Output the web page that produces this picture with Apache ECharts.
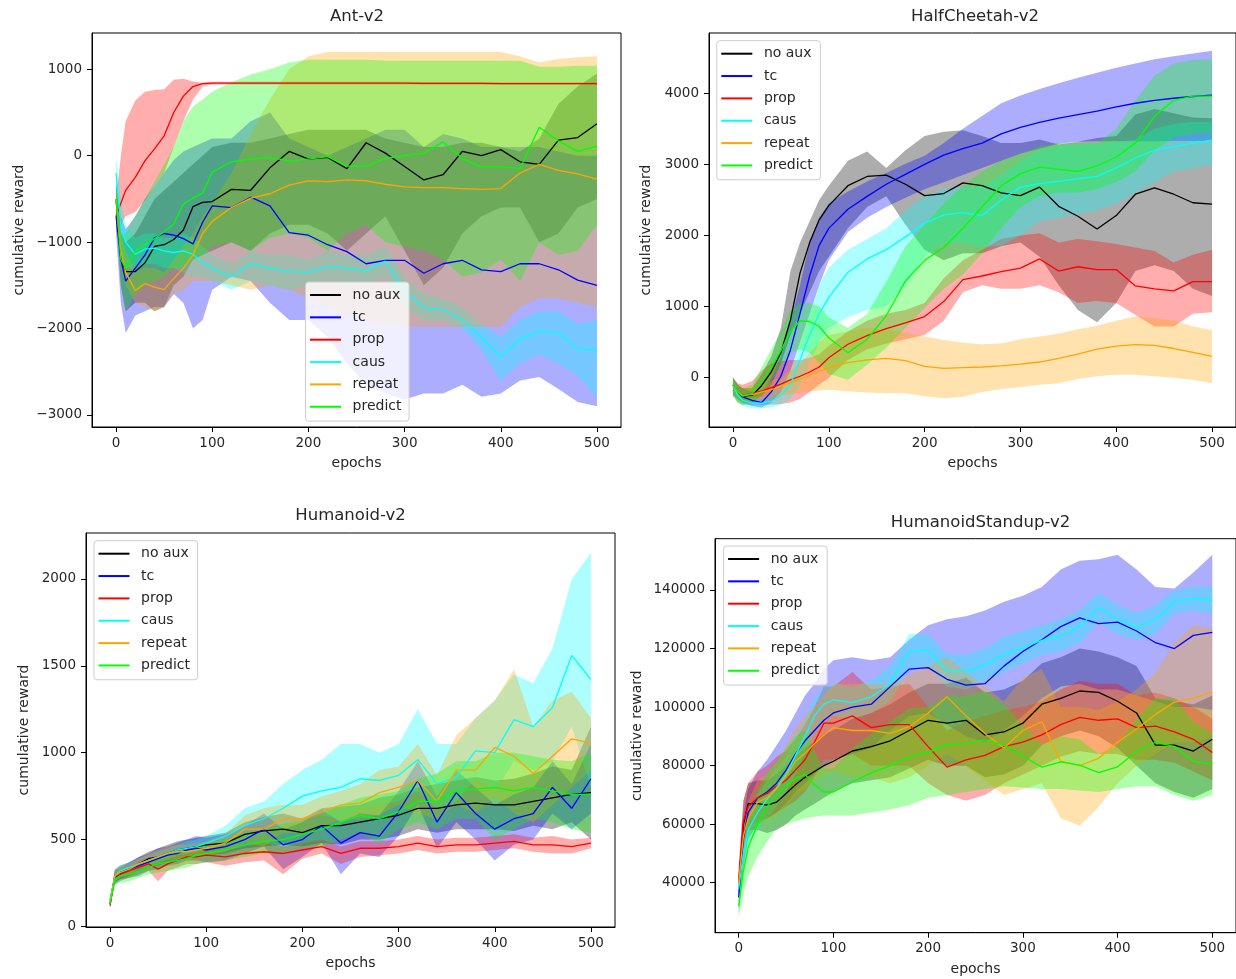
<!DOCTYPE html>
<html>
<head>
<meta charset="utf-8">
<script src="https://cdn.jsdelivr.net/npm/echarts@6/dist/echarts.min.js"></script>
<style>
html,body{margin:0;padding:0;background:#fff;}
#chart{width:1236px;height:979px;}
</style>
</head>
<body>
<div id="chart"></div>
<script>
// ---------- shared ----------
const X = [0,5,10,20,30,40,50,60,70,80,90,100,120,140,160,180,200,220,240,260,280,300,320,340,360,380,400,420,440,460,480,500];
const NAMES = ['no aux','tc','prop','caus','repeat','predict'];
const COLORS = ['#000000','#0000ff','#ff0000','#00ffff','#ffa500','#00ff00'];
const X_TICKS = [0,100,200,300,400,500];

// ---------- Ant-v2 ----------
const ant_noaux_mean = [-500,-1200,-1340,-1340,-1240,-1050,-1030,-970,-860,-590,-540,-530,-390,-400,-140,50,-40,-20,-150,150,30,-125,-280,-220,50,0,70,-70,-100,180,210,370];
const ant_noaux_lo = [-700,-1500,-1800,-1700,-1700,-1800,-1750,-1500,-1400,-1200,-1150,-1100,-1000,-1100,-900,-800,-800,-900,-1100,-900,-700,-1100,-1500,-1300,-900,-700,-600,-600,-1000,-900,-600,-500];
const ant_noaux_hi = [-300,-900,-1000,-900,-700,-500,-400,-300,-200,-100,0,100,150,150,200,250,300,300,300,300,200,150,100,100,150,150,100,50,200,600,800,950];
const ant_tc_mean = [-700,-1200,-1450,-1300,-1150,-950,-900,-920,-960,-1020,-770,-580,-600,-480,-580,-890,-920,-1030,-1110,-1250,-1210,-1210,-1360,-1250,-1210,-1320,-1340,-1250,-1250,-1320,-1440,-1500];
const ant_tc_lo = [-900,-1700,-2050,-1850,-1800,-1750,-1750,-1600,-1700,-2000,-1900,-1550,-1400,-1450,-1700,-1900,-1900,-2100,-2400,-2650,-2750,-2820,-2750,-2750,-2650,-2790,-2750,-2600,-2560,-2700,-2850,-2900];
const ant_tc_hi = [-300,-700,-850,-700,-500,-350,-200,-50,50,100,150,200,200,400,500,200,100,0,100,200,300,300,100,250,200,100,100,100,100,50,0,0];
const ant_prop_mean = [-700,-550,-400,-250,-60,80,230,500,690,800,835,840,840,840,840,840,840,840,840,840,840,840,838,838,838,838,835,835,835,835,835,835];
const ant_prop_lo = [-900,-800,-700,-650,-520,-350,-200,100,400,650,800,825,825,825,825,825,825,825,825,825,825,825,822,822,822,822,820,820,820,820,820,820];
const ant_prop_hi = [-500,0,400,640,740,760,770,880,890,860,845,855,855,855,855,855,855,855,855,855,855,855,853,853,853,853,850,850,850,850,850,850];
const ant_caus_mean = [-200,-800,-1000,-1140,-1080,-1070,-1100,-1120,-1100,-1140,-1240,-1300,-1400,-1250,-1300,-1340,-1350,-1280,-1300,-1330,-1220,-1560,-1760,-1780,-1900,-2100,-2330,-2120,-2030,-2050,-2230,-2260];
const ant_caus_lo = [-500,-1100,-1300,-1300,-1250,-1250,-1300,-1300,-1350,-1400,-1400,-1450,-1550,-1450,-1500,-1550,-1500,-1450,-1500,-1500,-1400,-1750,-1900,-1900,-2000,-2250,-2600,-2400,-2300,-2400,-2550,-2800];
const ant_caus_hi = [0,-500,-800,-950,-900,-900,-950,-950,-900,-950,-1050,-1150,-1250,-1100,-1150,-1150,-1200,-1100,-1150,-1150,-1050,-1400,-1600,-1650,-1750,-1950,-2100,-1900,-1800,-1800,-1950,-1900];
const ant_repeat_mean = [-500,-1100,-1350,-1560,-1480,-1520,-1550,-1420,-1300,-1150,-900,-760,-600,-490,-440,-340,-290,-300,-280,-290,-330,-360,-370,-370,-380,-390,-380,-200,-100,-170,-210,-270];
const ant_repeat_lo = [-700,-1300,-1500,-1700,-1750,-1800,-1750,-1600,-1550,-1450,-1450,-1450,-1500,-1550,-1500,-1550,-1650,-1750,-1850,-1900,-1950,-1980,-1980,-1980,-1980,-1980,-1980,-1750,-1650,-1650,-1700,-1750];
const ant_repeat_hi = [-300,-900,-1100,-1350,-1300,-1300,-1350,-1200,-1050,-900,-700,-550,-200,250,650,1000,1150,1200,1200,1200,1200,1200,1200,1200,1200,1200,1200,1150,1080,1120,1140,1150];
const ant_predict_mean = [-500,-1200,-1300,-1100,-1030,-960,-880,-790,-560,-490,-430,-190,-70,-40,-20,-60,-40,-10,-120,-120,-30,0,30,160,-30,-130,-130,-150,330,170,50,110];
const ant_predict_lo = [-700,-1500,-1800,-1600,-1500,-1450,-1400,-1300,-1300,-1200,-1150,-1050,-1000,-1100,-950,-900,-950,-1100,-900,-800,-1000,-1050,-1100,-1200,-1400,-1350,-1200,-1450,-1000,-1150,-1100,-800];
const ant_predict_hi = [-300,-900,-900,-700,-500,-300,-100,100,400,570,650,740,850,940,1000,1080,1110,1110,1110,1110,1100,1100,1100,1100,1100,1100,1100,1100,1030,1030,1040,1040];
const ant_yticks = [-3000,-2000,-1000,0,1000];

// ---------- HalfCheetah-v2 ----------
const hc_noaux_mean = [-100,-200,-260,-250,-110,80,350,810,1470,1900,2220,2420,2700,2830,2850,2720,2560,2590,2740,2700,2600,2560,2680,2410,2270,2090,2280,2580,2670,2580,2460,2440];
const hc_noaux_lo = [-250,-300,-350,-350,-250,-100,200,600,900,1200,1500,1700,2100,2400,2550,2150,1800,1650,1750,1750,1850,1900,1700,1300,950,780,1050,1500,1580,1500,1250,1150];
const hc_noaux_hi = [0,-100,-150,-150,50,300,700,1500,1900,2200,2500,2700,3050,3180,2950,3200,3400,3460,3480,3400,3300,3300,3350,3280,3320,3370,3400,3700,3780,3720,3660,3650];
const hc_tc_mean = [-100,-200,-270,-320,-350,-200,20,390,900,1430,1860,2100,2370,2550,2720,2860,3000,3130,3220,3300,3430,3520,3590,3650,3700,3750,3810,3860,3900,3930,3955,3975];
const hc_tc_lo = [-200,-300,-350,-400,-420,-350,-200,100,500,900,1300,1650,2050,2250,2400,2530,2650,2750,2850,2950,3050,3150,3220,3290,3320,3325,3325,3325,3325,3330,3330,3330];
const hc_tc_hi = [0,-100,-150,-200,-200,0,300,800,1300,1900,2250,2450,2620,2760,2880,3010,3120,3300,3500,3680,3860,3970,4060,4140,4220,4290,4360,4420,4480,4520,4560,4600];
const hc_prop_mean = [-100,-200,-250,-220,-190,-140,-90,-30,20,80,150,280,470,590,690,770,860,1070,1380,1430,1490,1540,1670,1500,1560,1520,1520,1290,1250,1220,1350,1350];
const hc_prop_lo = [-250,-350,-380,-380,-380,-380,-370,-350,-300,-200,-100,0,250,400,480,540,600,800,1200,1300,1250,1250,1300,1200,1050,1080,1050,880,720,720,900,920];
const hc_prop_hi = [0,-80,-100,-50,100,200,230,250,250,280,330,450,650,800,900,950,1050,1400,1650,1800,1950,2000,2030,1900,1950,1920,1880,1830,1780,1620,1730,1800];
const hc_caus_mean = [-100,-250,-320,-360,-360,-330,-250,-100,250,600,900,1130,1480,1670,1800,1980,2170,2290,2320,2280,2500,2680,2730,2760,2800,2830,2950,3090,3200,3250,3300,3340];
const hc_caus_lo = [-250,-350,-400,-430,-430,-420,-380,-300,-100,200,500,700,850,950,1000,1300,1700,1900,1900,1850,1850,2000,2200,2250,2300,2350,2450,2600,2750,2900,2950,3000];
const hc_caus_hi = [0,-150,-250,-280,-280,-200,-50,100,500,900,1300,1550,1800,1950,2100,2350,2550,2650,2680,2700,2850,3050,3200,3250,3280,3300,3320,3350,3500,3570,3600,3600];
const hc_repeat_mean = [-100,-200,-250,-240,-200,-170,-120,-70,-20,30,90,140,210,250,270,240,160,130,140,150,165,190,220,270,330,400,445,465,455,410,355,300];
const hc_repeat_lo = [-200,-300,-350,-340,-300,-280,-250,-230,-210,-190,-180,-170,-190,-210,-220,-220,-260,-290,-270,-200,-160,-130,-100,-80,-20,20,40,40,20,0,-30,-80];
const hc_repeat_hi = [0,-100,-150,-150,-100,-50,0,100,200,350,500,600,650,700,680,630,580,530,490,470,480,540,580,620,680,730,800,860,840,800,720,670];
const hc_predict_mean = [-100,-200,-260,-220,-60,150,380,650,800,790,720,560,350,540,870,1360,1650,1830,2100,2400,2700,2870,2960,2930,2900,2980,3100,3300,3680,3900,3960,3960];
const hc_predict_lo = [-250,-350,-380,-350,-250,-50,150,350,400,350,200,50,-30,180,420,700,980,1250,1450,1750,2100,2400,2550,2600,2600,2650,2750,2900,3200,3380,3430,3450];
const hc_predict_hi = [0,-100,-150,-100,150,400,650,950,1050,1050,1000,850,700,900,1350,1850,2150,2450,2700,2900,3050,3150,3250,3300,3300,3300,3500,3900,4250,4420,4470,4480];
const hc_yticks = [0,1000,2000,3000,4000];

// ---------- Humanoid-v2 ----------
const hum_noaux_mean = [130,290,310,330,360,390,400,420,440,450,460,470,480,530,550,560,540,580,580,600,620,640,680,680,700,710,700,700,720,740,760,770];
const hum_noaux_lo = [110,250,270,290,320,340,350,370,390,400,410,410,420,450,460,470,460,480,470,500,500,520,560,540,560,560,560,550,580,560,600,500];
const hum_noaux_hi = [150,330,350,370,400,430,450,470,490,500,510,520,540,600,630,650,620,680,690,700,740,760,800,820,840,860,840,850,880,920,900,1150];
const hum_tc_mean = [150,280,300,330,350,370,390,410,420,440,450,440,460,500,560,470,500,580,480,540,520,660,840,600,770,650,560,620,650,800,680,850];
const hum_tc_lo = [130,240,260,280,290,320,330,350,360,380,380,370,380,420,460,330,400,480,300,420,400,520,700,450,600,500,380,470,500,650,560,650];
const hum_tc_hi = [170,320,340,370,400,420,450,460,480,500,520,510,530,580,650,560,600,670,600,650,640,780,950,750,900,800,700,760,800,950,820,1050];
const hum_prop_mean = [120,290,300,320,340,360,330,360,380,400,400,410,400,420,430,420,440,460,420,450,450,460,480,460,470,470,480,490,470,470,460,480];
const hum_prop_lo = [100,260,270,280,300,320,260,320,340,360,360,370,350,370,380,300,390,420,360,400,410,420,440,420,430,430,440,450,430,420,420,450];
const hum_prop_hi = [140,320,330,360,380,400,380,400,420,440,440,450,440,460,480,460,480,500,460,490,490,500,520,500,510,510,520,530,510,520,500,510];
const hum_caus_mean = [150,290,320,340,360,380,400,420,440,450,460,480,520,580,620,680,750,780,800,850,840,870,960,820,860,1010,1000,1190,1150,1260,1560,1420];
const hum_caus_lo = [140,260,290,310,330,350,370,390,410,420,430,440,470,500,540,580,620,640,620,680,700,720,780,680,720,850,780,950,900,950,1150,800];
const hum_caus_hi = [160,320,350,370,390,410,430,450,470,490,500,520,580,680,720,820,900,960,1050,1050,1000,1050,1250,1050,1050,1200,1300,1450,1400,1600,2000,2150];
const hum_repeat_mean = [140,290,310,330,360,380,400,420,430,430,440,450,480,560,560,620,620,660,700,710,770,800,840,720,900,900,1030,980,880,980,1080,1055];
const hum_repeat_lo = [130,260,280,300,330,340,360,380,390,390,400,410,430,480,460,540,540,570,620,620,640,700,650,620,700,650,750,650,600,700,800,900];
const hum_repeat_hi = [150,320,340,360,390,420,440,460,470,470,480,490,530,640,680,700,700,750,780,820,900,920,1050,870,1100,1200,1300,1480,1150,1300,1350,1200];
const hum_predict_mean = [130,270,290,300,320,340,360,370,380,390,410,420,440,470,490,500,530,560,600,640,620,660,720,720,780,790,800,780,800,780,760,760];
const hum_predict_lo = [110,240,250,260,280,300,310,320,330,340,360,370,380,400,420,410,450,460,500,540,480,560,600,560,620,620,500,560,620,600,560,540];
const hum_predict_hi = [150,300,330,340,360,380,400,420,430,440,460,470,500,540,560,590,610,650,700,740,760,780,850,880,950,950,1000,1000,980,960,950,1000];
const hum_yticks = [0,500,1000,1500,2000];

// ---------- HumanoidStandup-v2 ----------
const hs_noaux_mean = [40000,60000,67000,67000,66500,67500,70500,73500,76000,78000,80000,81500,85000,86500,88500,92000,95500,94500,95500,90500,91500,94500,101000,103000,105500,105000,102000,98000,87000,87000,85000,89000];
const hs_noaux_lo = [35000,52000,58000,58000,57000,58000,60000,63000,65000,67000,69000,71000,74000,75000,76000,79000,82000,80000,80000,76000,77000,80000,87000,90000,92000,90000,86000,80000,74000,71000,69000,72000];
const hs_noaux_hi = [45000,68000,74000,75000,75000,77000,80000,83000,86000,88000,91000,92000,96000,98000,101000,105000,108000,108000,110000,105000,106000,109000,115000,117000,120000,119000,117000,114000,103000,102000,101000,104000];
const hs_tc_mean = [35000,55000,64000,69000,71000,74000,78500,84000,88500,92000,95500,98000,100000,101000,107000,113000,113500,109500,107500,108000,114000,119000,123000,127500,130500,128500,129000,126000,122000,120000,124500,125500];
const hs_tc_lo = [30000,45000,55000,60000,62000,64000,67000,71000,74000,77000,80000,82000,84000,86000,92000,97000,98000,94000,90000,88000,92000,97000,103000,107000,108000,106000,106000,104000,102000,100000,100000,99000];
const hs_tc_hi = [40000,63000,72000,78000,82000,87000,92000,98000,104000,108000,113000,116000,117000,116000,117000,123000,128000,130000,131000,133000,136000,138000,141000,147000,150000,150500,152000,147000,141000,140500,146000,152000];
const hs_prop_mean = [40000,61000,66000,69000,70500,73000,75000,78500,82000,88000,94500,94500,97000,93000,94000,94000,86500,79500,82000,83500,86500,88000,90500,94000,96500,95500,96000,93000,93500,91500,89000,84500];
const hs_prop_lo = [35000,54000,59000,61000,62000,64000,66000,68000,71000,76000,82000,82000,84000,80000,80000,80000,74000,70000,68000,70000,74000,77000,80000,83000,85000,84000,84000,82000,82000,81000,78000,75000];
const hs_prop_hi = [45000,68000,74000,78000,80000,83000,85000,89000,94000,100000,107000,107000,112000,106000,107000,108000,100000,92000,95000,97000,99000,100000,102000,106000,109000,108000,108000,104000,105000,103000,100000,96000];
const hs_caus_mean = [38000,50000,58000,64000,68500,72500,77000,83500,90000,97000,101000,102500,101500,103500,108000,119000,119500,112500,112000,114500,118000,120300,122800,124300,127500,134000,130000,127300,130000,136000,137000,136500];
const hs_caus_lo = [34000,45000,53000,58000,62000,66000,71000,77000,84000,91000,95000,97000,96000,98000,102000,113000,114000,107000,106000,109000,112000,115000,118000,119000,122000,129000,125000,123000,125000,132000,133000,132000];
const hs_caus_hi = [42000,55000,63000,70000,75000,79000,83000,90000,96000,103000,107000,108000,107000,109000,114000,125000,125000,118000,118000,120000,124000,126000,128000,130000,133000,139000,135000,132000,135000,140000,141000,141000];
const hs_repeat_mean = [40000,56000,62000,67500,69000,72000,76500,81500,84200,87500,90500,93000,92000,92000,91000,93300,98000,103500,97000,91000,86000,92000,95000,81500,80000,82500,88000,92500,97500,101700,103000,105000];
const hs_repeat_lo = [35000,50000,56000,60000,61000,63000,66000,70000,72000,75000,77000,78000,76000,76000,74000,76000,80000,84000,80000,75000,70000,72000,74000,62000,59500,66000,74000,80000,84000,88000,88000,90000];
const hs_repeat_hi = [45000,62000,68000,75000,77000,81000,87000,93000,97000,100000,104000,108000,108000,108000,108000,111000,114000,117000,112000,107000,102000,110000,113000,100000,100000,99000,102000,106000,112000,122000,128000,127000];
const hs_predict_mean = [32000,44000,52000,60000,66000,70000,73000,75500,77000,73500,71000,71000,74500,77500,80000,83000,84500,87200,87500,88800,87000,83300,79500,81300,80200,77600,79600,84800,88000,86500,81500,80500];
const hs_predict_lo = [28000,36000,42000,49000,54000,58500,60000,61000,62000,62500,63000,63000,63000,64000,65000,66500,69000,70000,71000,72000,73000,72500,72000,72000,71500,71000,72000,73000,73000,70000,68000,70000];
const hs_predict_hi = [36000,52000,62000,71000,78000,81500,86000,90000,92000,85000,79000,79000,86000,91000,95000,99500,100000,104000,104000,105500,101000,94000,87000,90000,89000,84000,87000,96000,103000,103000,95000,91000];
const hs_yticks = [40000,60000,80000,100000,120000,140000];

// ---------- panel layout ----------
const FONT = 'DejaVu Sans';
const TXT = '#262626';
const panels = [
  { title:'Ant-v2', tx:357, ty:17,
    grid:{left:92, top:33, width:529, height:394},
    ymin:-3139, ymax:1420, yticks:ant_yticks, yNameGap:66,
    legend:{left:305.5, top:282},
    data:[[ant_noaux_mean,ant_noaux_lo,ant_noaux_hi],[ant_tc_mean,ant_tc_lo,ant_tc_hi],[ant_prop_mean,ant_prop_lo,ant_prop_hi],
          [ant_caus_mean,ant_caus_lo,ant_caus_hi],[ant_repeat_mean,ant_repeat_lo,ant_repeat_hi],[ant_predict_mean,ant_predict_lo,ant_predict_hi]] },
  { title:'HalfCheetah-v2', tx:975, ty:17,
    grid:{left:709, top:33, width:532, height:394},
    ymin:-694, ymax:4848, yticks:hc_yticks, yNameGap:56,
    legend:{left:716.8, top:40.7},
    data:[[hc_noaux_mean,hc_noaux_lo,hc_noaux_hi],[hc_tc_mean,hc_tc_lo,hc_tc_hi],[hc_prop_mean,hc_prop_lo,hc_prop_hi],
          [hc_caus_mean,hc_caus_lo,hc_caus_hi],[hc_repeat_mean,hc_repeat_lo,hc_repeat_hi],[hc_predict_mean,hc_predict_lo,hc_predict_hi]] },
  { title:'Humanoid-v2', tx:350.5, ty:516,
    grid:{left:86, top:533, width:529, height:394},
    ymin:-3, ymax:2264, yticks:hum_yticks, yNameGap:55,
    legend:{left:94, top:540.7},
    data:[[hum_noaux_mean,hum_noaux_lo,hum_noaux_hi],[hum_tc_mean,hum_tc_lo,hum_tc_hi],[hum_prop_mean,hum_prop_lo,hum_prop_hi],
          [hum_caus_mean,hum_caus_lo,hum_caus_hi],[hum_repeat_mean,hum_repeat_lo,hum_repeat_hi],[hum_predict_mean,hum_predict_lo,hum_predict_hi]] },
  { title:'HumanoidStandup-v2', tx:980.5, ty:522.3,
    grid:{left:715, top:538.7, width:533, height:394},
    ymin:22934, ymax:157524, yticks:hs_yticks, yNameGap:71,
    legend:{left:723.6, top:546},
    data:[[hs_noaux_mean,hs_noaux_lo,hs_noaux_hi],[hs_tc_mean,hs_tc_lo,hs_tc_hi],[hs_prop_mean,hs_prop_lo,hs_prop_hi],
          [hs_caus_mean,hs_caus_lo,hs_caus_hi],[hs_repeat_mean,hs_repeat_lo,hs_repeat_hi],[hs_predict_mean,hs_predict_lo,hs_predict_hi]] }
];

const fmt = v => (v < 0 ? '\u2212' + Math.abs(v) : String(v));

const grids = [], xAxes = [], yAxes = [], legends = [], graphics = [], bandSeries = [], lineSeries = [];
panels.forEach((p, i) => {
  grids.push(Object.assign({show:true, borderColor:'#000', borderWidth:1, backgroundColor:'transparent'}, p.grid));
  xAxes.push({
    type:'value', gridIndex:i, min:-25, max:525,
    name:'epochs', nameLocation:'middle', nameGap:29.5,
    nameTextStyle:{fontFamily:FONT, fontSize:14, color:TXT},
    axisLine:{show:true, onZero:false, lineStyle:{color:'#000', width:1}},
    axisTick:{show:true, inside:false, length:5, lineStyle:{color:'#000'}, customValues:X_TICKS},
    axisLabel:{fontFamily:FONT, fontSize:13.5, color:TXT, margin:9, customValues:X_TICKS, formatter:fmt},
    splitLine:{show:false}
  });
  yAxes.push({
    type:'value', gridIndex:i, min:p.ymin, max:p.ymax,
    name:'cumulative reward', nameLocation:'middle', nameGap:p.yNameGap, nameRotate:90,
    nameTextStyle:{fontFamily:FONT, fontSize:14, color:TXT},
    axisLine:{show:true, onZero:false, lineStyle:{color:'#000', width:1}},
    axisTick:{show:true, inside:false, length:5, lineStyle:{color:'#000'}, customValues:p.yticks},
    axisLabel:{fontFamily:FONT, fontSize:13.5, color:TXT, margin:10, customValues:p.yticks, formatter:fmt},
    splitLine:{show:false}
  });
  legends.push({
    orient:'vertical', left:p.legend.left, top:p.legend.top,
    data:NAMES, icon:'rect', itemWidth:31, itemHeight:2, itemGap:6.35,
    padding:[5,7.6,6.3,4.5],
    backgroundColor:'rgba(255,255,255,0.8)', borderColor:'#cccccc', borderWidth:1, borderRadius:3,
    selectedMode:false, z:10,
    textStyle:{fontFamily:FONT, fontSize:14, color:TXT, lineHeight:16, padding:[0,0,0,6.6]}
  });
  graphics.push({
    type:'text', x:p.tx, y:p.ty, z:100,
    style:{text:p.title, fontFamily:FONT, fontSize:16.5, fill:TXT, align:'center', verticalAlign:'middle'}
  });
  p.data.forEach((d, k) => {
    const [mean, lo, hi] = d;
    const c = COLORS[k];
    // band: one polygon through the axis scales (api.coord)
    bandSeries.push({
      type:'custom', name:'band_' + i + '_' + k, xAxisIndex:i, yAxisIndex:i,
      silent:true, z:1, clip:true,
      encode:{x:0, y:[1,2]},
      data:X.map((x, j) => [x, lo[j], hi[j]]),
      renderItem:(params, api) => {
        if (params.dataIndex !== 0) return null;
        const pts = [];
        for (let j = 0; j < X.length; j++) pts.push(api.coord([X[j], hi[j]]));
        for (let j = X.length - 1; j >= 0; j--) pts.push(api.coord([X[j], lo[j]]));
        return {type:'polygon', shape:{points:pts}, style:{fill:c, opacity:0.32}};
      }
    });
    lineSeries.push({
      type:'line', name:NAMES[k], xAxisIndex:i, yAxisIndex:i,
      symbol:'none', showSymbol:false, z:3, color:c,
      itemStyle:{color:c},
      lineStyle:{color:c, width:1.3},
      data:X.map((x, j) => [x, mean[j]])
    });
  });
});

const chart = echarts.init(document.getElementById('chart'), null, {renderer:'canvas'});
chart.setOption({
  animation:false,
  backgroundColor:'#ffffff',
  grid:grids, xAxis:xAxes, yAxis:yAxes, legend:legends,
  graphic:graphics,
  series:bandSeries.concat(lineSeries)
});
</script>
</body>
</html>
